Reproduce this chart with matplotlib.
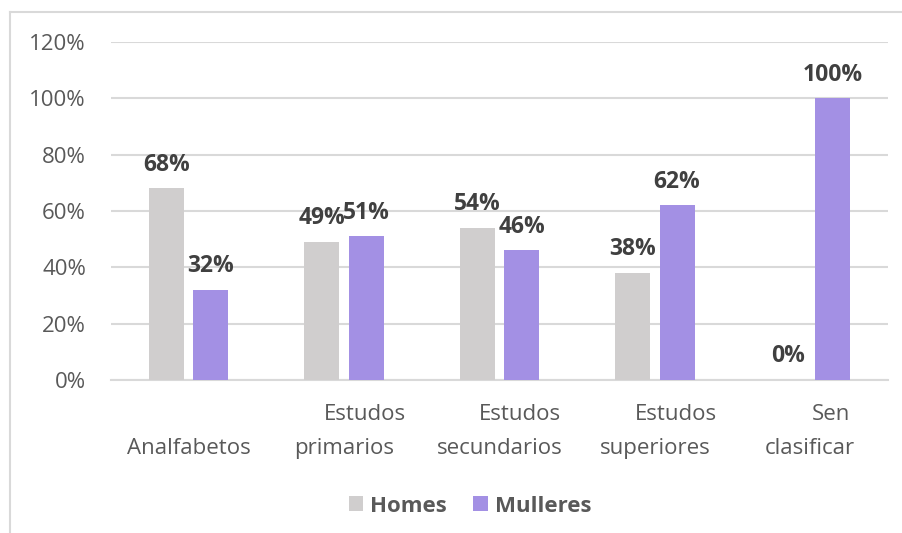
import matplotlib
matplotlib.use("Agg")
import matplotlib.pyplot as plt
from matplotlib.lines import Line2D
import numpy as np

plt.rcParams["font.family"] = ["Open Sans", "DejaVu Sans"]

# Nivel de estudos por sexo
categorias_l1 = ["", "Estudos", "Estudos", "Estudos", "Sen"]
categorias_l2 = ["Analfabetos", "primarios", "secundarios", "superiores", "clasificar"]
homes = [0.68, 0.49, 0.54, 0.38, 0.00]
mulleres = [0.32, 0.51, 0.46, 0.62, 1.00]
yticks = [0, 0.2, 0.4, 0.6, 0.8, 1.0, 1.2]

GRIS = "#D0CECE"
MORADO = "#A390E4"
TEXTO = "#595959"
ETIQ = "#404040"
LINHA = "#D9D9D9"

fig = plt.figure(figsize=(9.03, 5.33), dpi=100)
ax = fig.add_axes([111 / 903, 1 - 380 / 533, 777 / 903, 338 / 533])

x = np.arange(len(homes))
w = 0.225
b1 = ax.bar(x - w / 2 - 0.03, homes, w, color=GRIS, label="Homes", zorder=3)
b2 = ax.bar(x + w / 2 + 0.03, mulleres, w, color=MORADO, label="Mulleres", zorder=3)

for barras in (b1, b2):
    for r in barras:
        v = r.get_height()
        ax.annotate(f"{v:.0%}", (r.get_x() + r.get_width() / 2, v),
                    xytext=(0, 17), textcoords="offset points",
                    ha="center", va="center", fontsize=16.5, fontweight="bold",
                    color=ETIQ)

ax.set_xlim(-0.5, len(homes) - 0.5)
ax.set_ylim(0, 1.2)
ax.set_yticks(yticks)
ax.set_yticklabels([f"{t:.0%}" for t in yticks])
ax.yaxis.grid(True, color=LINHA, lw=1.5, zorder=0)
ax.tick_params(axis="y", length=0, pad=18, labelsize=16, labelcolor=TEXTO)
ax.set_xticks([])
for s in ("left", "right", "top"):
    ax.spines[s].set_visible(False)
ax.spines["bottom"].set_color(LINHA)
ax.spines["bottom"].set_linewidth(1.5)

# etiquetas de categoría en dúas liñas
for i in x:
    ax.annotate(categorias_l2[i], (i, 0), xycoords=("data", "axes fraction"),
                xytext=(0, -49), textcoords="offset points",
                ha="center", va="center", fontsize=16, color=TEXTO)
    if categorias_l1[i]:
        ax.annotate(categorias_l1[i], (i, 0), xycoords=("data", "axes fraction"),
                    xytext=(15, -25), textcoords="offset points",
                    ha="center", va="center", fontsize=16, color=TEXTO)

leg = fig.legend(loc="center", bbox_to_anchor=(470 / 903, 1 - 506 / 533),
                 ncol=2, frameon=False, handlelength=0.65, handleheight=0.65,
                 handletextpad=0.3, columnspacing=1.2,
                 prop={"size": 16, "weight": "bold"})
for t in leg.get_texts():
    t.set_color(TEXTO)

# marco do gráfico
fig.add_artist(Line2D([10 / 903, 10 / 903], [0, 1 - 12 / 533], color=LINHA, lw=1.5))
fig.add_artist(Line2D([10 / 903, 1], [1 - 12 / 533, 1 - 12 / 533], color=LINHA, lw=1.5))

fig.savefig("out.png", dpi=100)
